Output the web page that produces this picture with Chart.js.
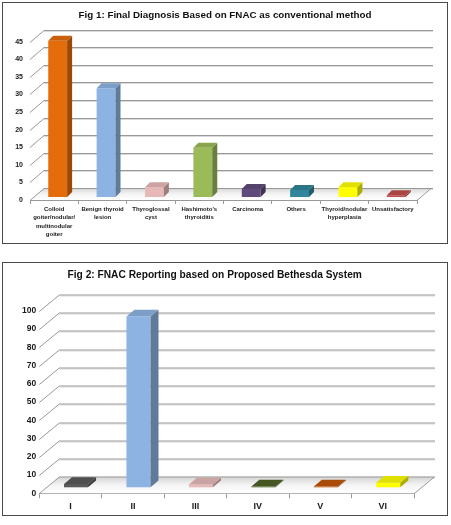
<!DOCTYPE html>
<html>
<head>
<meta charset="utf-8">
<script src="https://cdn.jsdelivr.net/npm/chart.js@4.4.1/dist/chart.umd.min.js"></script>
<style>
  body { margin: 0; background: #fff; width: 451px; height: 525px; position: relative; overflow: hidden; }
  .frame { position: absolute; border: 1.5px solid #4a4a4a; box-sizing: border-box; }
  canvas { position: absolute; left: 0; }
</style>
</head>
<body>
<div class="frame" style="left:2px; top:2px; width:446px; height:242px;"></div>
<div class="frame" style="left:2px; top:262px; width:446px; height:254px;"></div>
<canvas id="fig1" width="451" height="250" style="top:0"></canvas>
<canvas id="fig2" width="451" height="270" style="top:255px"></canvas>
<script>
// ---- data ----
const fig1Labels = [['Colloid', 'goiter/nodular/', 'multinodular', 'goiter'], ['Benign thyroid', 'lesion'], ['Thyroglossal', 'cyst'],
  ["Hashimoto's", 'thyroiditis'], 'Carcinoma', 'Others', ['Thyroid/nodular', 'hyperplasia'], 'Unsatisfactory'];
const fig1Values = [44.4, 30.9, 2.8, 14.0, 2.3, 2.0, 2.8, 0.5];
const fig1Colors = ['#E46C0A', '#8DB3E2', '#E6B9B8', '#9BBB59', '#604A7B', '#31859C', '#FFFF00', '#C0504D'];
const fig1Ticks = [0, 5, 10, 15, 20, 25, 30, 35, 40, 45];

const fig2Labels = ['I', 'II', 'III', 'IV', 'V', 'VI'];
const fig2Values = [1.8, 93.6, 1.6, 0.4, 0.4, 2.5];
const fig2Colors = ['#595959', '#8DB3E2', '#E6B9B8', '#4F6228', '#C0560A', '#FFFF00'];
const fig2Ticks = [0, 10, 20, 30, 40, 50, 60, 70, 80, 90, 100];

const FONT = "'Liberation Sans Narrow', 'Arial Narrow', 'Liberation Sans', Arial, sans-serif";

function shade(hex, f) {
  const n = parseInt(hex.slice(1), 16);
  const c = [(n >> 16) & 255, (n >> 8) & 255, n & 255].map(v => Math.max(0, Math.min(255, Math.round(v * f))));
  return 'rgb(' + c.join(',') + ')';
}

// fake 3d: back walls, floor, and side/top faces of the bars
const box3d = {
  id: 'box3d',
  beforeDatasetsDraw(chart, args, o) {
    const ctx = chart.ctx, a = chart.chartArea, ys = chart.scales.y;
    const y0 = ys.getPixelForValue(0);
    ctx.save();
    // floor
    const g = ctx.createLinearGradient(0, y0 + o.dy, 0, y0);
    g.addColorStop(0, '#d4d4d4');
    g.addColorStop(0.5, '#f4f4f4');
    g.addColorStop(1, '#ffffff');
    ctx.fillStyle = g;
    ctx.beginPath();
    ctx.moveTo(a.left, y0); ctx.lineTo(a.right, y0);
    ctx.lineTo(a.right + o.dx, y0 + o.dy); ctx.lineTo(a.left + o.dx, y0 + o.dy);
    ctx.closePath(); ctx.fill();
    ctx.lineWidth = 1;
    ys.ticks.forEach(t => {
      const py = Math.round(ys.getPixelForValue(t.value)) + 0.5;
      ctx.strokeStyle = '#dadada';
      ctx.beginPath();
      ctx.moveTo(a.left + o.dx, py + o.dy + 1); ctx.lineTo(a.right + o.dx + o.extra, py + o.dy + 1);
      ctx.stroke();
      ctx.strokeStyle = '#999999';
      ctx.beginPath();
      ctx.moveTo(a.left, py); ctx.lineTo(a.left + o.dx, py + o.dy);
      ctx.lineTo(a.right + o.dx + o.extra, py + o.dy);
      ctx.stroke();
    });
    // right edge of floor
    ctx.strokeStyle = '#999999';
    ctx.beginPath();
    ctx.moveTo(a.right, y0 + 0.5); ctx.lineTo(a.right + o.dx, y0 + o.dy + 0.5);
    ctx.stroke();
    ctx.restore();
    ctx.save();
    ctx.translate(o.ox, o.oy);
  },
  afterDatasetsDraw(chart, args, o) {
    const ctx = chart.ctx;
    const colors = chart.data.datasets[0].backgroundColor;
    chart.getDatasetMeta(0).data.forEach((bar, i) => {
      const p = bar.getProps(['x', 'y', 'base', 'width'], true);
      const l = p.x - p.width / 2, r = p.x + p.width / 2;
      ctx.fillStyle = shade(colors[i], 0.68);
      ctx.beginPath();
      ctx.moveTo(r, p.y); ctx.lineTo(r + o.bdx, p.y + o.bdy);
      ctx.lineTo(r + o.bdx, p.base + o.bdy); ctx.lineTo(r, p.base);
      ctx.closePath(); ctx.fill();
      ctx.fillStyle = shade(colors[i], 0.88);
      ctx.beginPath();
      ctx.moveTo(l, p.y); ctx.lineTo(r, p.y);
      ctx.lineTo(r + o.bdx, p.y + o.bdy); ctx.lineTo(l + o.bdx, p.y + o.bdy);
      ctx.closePath(); ctx.fill();
    });
    ctx.restore();
  }
};

function makeChart(id, labels, values, colors, ticks, opt) {
  return new Chart(document.getElementById(id), {
    type: 'bar',
    data: {
      labels: labels,
      datasets: [{
        data: values,
        backgroundColor: colors,
        borderWidth: 0,
        categoryPercentage: 1,
        barPercentage: opt.barPct,
        yAxisID: 'y',
        clip: false
      }]
    },
    options: {
      responsive: false,
      animation: false,
      events: [],
      layout: { padding: { left: 0, right: opt.padRight, top: 0, bottom: 0 } },
      plugins: {
        legend: { display: false },
        tooltip: { enabled: false },
        title: {
          display: true,
          text: opt.title,
          color: '#111',
          font: { family: FONT, size: opt.titleSize, weight: 'bold' },
          padding: { top: opt.titleTop, bottom: opt.titleBottom }
        },
        box3d: opt.depth
      },
      scales: {
        x: {
          grid: { display: true, drawOnChartArea: false, drawTicks: true, tickLength: opt.tickLen, color: '#999999', offset: true },
          border: { display: true, color: '#999999' },
          ticks: { color: '#1a1a1a', padding: opt.xPad, maxRotation: 0, autoSkip: false,
                   font: { family: FONT, size: opt.xFont, weight: 'bold', lineHeight: opt.xLine } },
          afterFit: s => { s.height = opt.xHeight; }
        },
        y: {
          min: ticks[0],
          max: ticks[ticks.length - 1],
          grid: { display: false, drawTicks: false },
          border: { display: false },
          ticks: { stepSize: ticks[1] - ticks[0], color: '#1a1a1a', padding: opt.yPad,
                   font: { family: FONT, size: opt.yFont, weight: 'bold' } },
          afterFit: s => { s.width = opt.yWidth; }
        },
        yR: {
          position: 'right',
          display: true,
          grid: { display: false, drawTicks: false },
          border: { display: false },
          ticks: { display: false },
          afterFit: s => { s.width = opt.rightGap; }
        }
      }
    },
    plugins: [box3d]
  });
}

makeChart('fig1', fig1Labels, fig1Values, fig1Colors, fig1Ticks, {
  title: 'Fig 1: Final Diagnosis Based on FNAC as conventional method',
  titleSize: 9.8, titleTop: 9.8, titleBottom: 20.1,
  barPct: 0.39, padRight: 1, rightGap: 33,
  xHeight: 50, yWidth: 30, tickLen: 4, xPad: 1, yPad: 7,
  xFont: 6, xLine: 1.4, yFont: 7,
  depth: { dx: 14, dy: -12, extra: 2, ox: 3.5, oy: -3, bdx: 5, bdy: -5 }
});

makeChart('fig2', fig2Labels, fig2Values, fig2Colors, fig2Ticks, {
  title: 'Fig 2: FNAC Reporting based on Proposed Bethesda System',
  titleSize: 10.2, titleTop: 14.5, titleBottom: 29,
  barPct: 0.385, padRight: 21.6, rightGap: 15.4,
  xHeight: 31.7, yWidth: 39.3, tickLen: 5, xPad: 3, yPad: 3,
  xFont: 9, xLine: 1.2, yFont: 8.5,
  depth: { dx: 20, dy: -16.5, extra: 1, ox: 5.5, oy: -6, bdx: 8, bdy: -6.7 }
});
</script>
</body>
</html>
